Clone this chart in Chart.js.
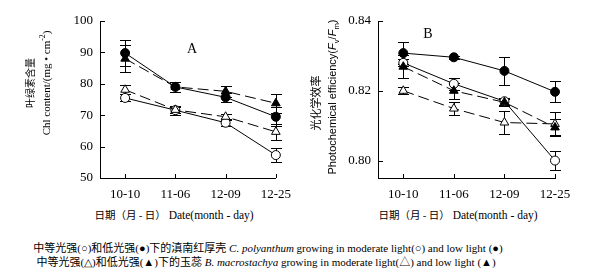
<!DOCTYPE html>
<html>
<head>
<meta charset="utf-8">
<script src="https://cdn.jsdelivr.net/npm/chart.js@4.4.1/dist/chart.umd.min.js"></script>
<style>
  body { margin: 0; background: #fff; }
  #wrap { position: relative; width: 606px; height: 276px; overflow: hidden; color: #000;
          font-family: "Liberation Serif", "Noto Sans CJK SC", serif; }
  canvas { position: absolute; top: 0; }
  .t { position: absolute; white-space: nowrap; line-height: 1; }
  .rot { transform: translate(-50%, -50%) rotate(-90deg); }
  .ctr { transform: translate(-50%, -50%); }
  .cn { font-family: "Noto Sans CJK SC", sans-serif; }
  .sy { font-family: "Liberation Serif", serif; }
  sup, sub { font-size: 70%; line-height: 0; }
</style>
</head>
<body>
<div id="wrap">
  <canvas id="chartA" width="300" height="205" style="left:0"></canvas>
  <canvas id="chartB" width="306" height="205" style="left:300px"></canvas>

  <!-- letras dos painéis -->
  <div class="t ctr" style="left:192px; top:49px; font-size:14px">A</div>
  <div class="t ctr" style="left:428px; top:34px; font-size:14px">B</div>

  <!-- títulos do eixo y -->
  <div class="t rot cn" style="left:30px; top:83px; font-size:10px">叶绿素含量</div>
  <div class="t rot" style="left:46px; top:83px; font-size:11px">Chl content/(mg • cm<sup>-2</sup>)</div>
  <div class="t rot cn" style="left:315px; top:103px; font-size:11px">光化学效率</div>
  <div class="t rot" style="left:332px; top:97px; font-size:11px; font-family:'Liberation Sans',sans-serif">Photochemical efficiency(<i>F</i><sub>v</sub>/<i>F</i><sub>m</sub>)</div>

  <!-- títulos do eixo x -->
  <div class="t ctr" style="left:174px; top:216px; font-size:11.5px"><span class="cn" style="font-size:10.5px">日期（月 - 日）</span> Date(month - day)</div>
  <div class="t ctr" style="left:458px; top:216px; font-size:11.5px"><span class="cn" style="font-size:10.5px">日期（月 - 日）</span> Date(month - day)</div>

  <!-- legenda -->
  <div class="t ctr" style="left:268px; top:248px; font-size:11px"><span class="cn">中等光强<span class="sy">(○)</span>和低光强<span class="sy">(●)</span>下的滇南红厚壳</span> <i>C. polyanthum</i> growing in moderate light(○) and low light (●)</div>
  <div class="t ctr" style="left:266px; top:262px; font-size:11px"><span class="cn">中等光强<span class="sy">(△)</span>和低光强<span class="sy">(▲)</span>下的玉蕊</span> <i>B. macrostachya</i> growing in moderate light(△) and low light (▲)</div>
</div>

<script>
// Categorias (datas)
const dates = ['10-10', '11-06', '12-09', '12-25'];

// Painel A - teor de clorofila
const chlCpModerate = [75.5, 71.6, 67.6, 57.3];
const chlCpModerateErr = [1.1, 1.4, 1.0, 2.2];
const chlCpLow = [89.8, 79.0, 75.7, 69.5];
const chlCpLowErr = [4.0, 1.6, 1.4, 3.0];
const chlBmModerate = [78.1, 71.7, 69.5, 64.7];
const chlBmModerateErr = [1.4, 1.0, 0.8, 2.5];
const chlBmLow = [88.0, 79.0, 77.6, 73.8];
const chlBmLowErr = [4.4, 1.6, 1.8, 3.0];
const chlTicks = [50, 60, 70, 80, 90, 100];

// Painel B - eficiência fotoquímica
const fvCpModerate = [0.828, 0.822, 0.817, 0.800];
const fvCpModerateErr = [0.001, 0.0017, 0.001, 0.0027];
const fvCpLow = [0.8308, 0.8296, 0.8257, 0.8197];
const fvCpLowErr = [0.0032, 0.0005, 0.004, 0.003];
const fvBmModerate = [0.820, 0.8149, 0.8109, 0.8105];
const fvBmModerateErr = [0.001, 0.0018, 0.0032, 0.0035];
const fvBmLow = [0.8269, 0.820, 0.8167, 0.8095];
const fvBmLowErr = [0.0033, 0.0023, 0.001, 0.0023];
const fvTicks = [0.80, 0.82, 0.84];

const serif = 'Liberation Serif';

function pts(vals) {
  return vals.map((v, i) => ({ x: i, y: v }));
}

// Barras de erro desenhadas com as escalas do gráfico
const errorBars = {
  id: 'errorBars',
  beforeDatasetsDraw(chart) {
    const { ctx, scales } = chart;
    ctx.save();
    ctx.strokeStyle = '#000';
    ctx.lineWidth = 1;
    chart.data.datasets.forEach(ds => {
      if (!ds.err) return;
      ds.data.forEach((p, i) => {
        const x = Math.round(scales.x.getPixelForValue(p.x)) + 0.5;
        const yTop = Math.round(scales.y.getPixelForValue(p.y + ds.err[i])) + 0.5;
        const yBot = Math.round(scales.y.getPixelForValue(p.y - ds.err[i])) + 0.5;
        ctx.beginPath();
        ctx.moveTo(x, yTop); ctx.lineTo(x, yBot);
        ctx.moveTo(x - 5.5, yTop); ctx.lineTo(x + 5.5, yTop);
        ctx.moveTo(x - 5.5, yBot); ctx.lineTo(x + 5.5, yBot);
        ctx.stroke();
      });
    });
    ctx.restore();
  }
};

// Marcas dos eixos voltadas para dentro
const innerTicks = {
  id: 'innerTicks',
  afterDraw(chart) {
    const { ctx, chartArea, scales } = chart;
    ctx.save();
    ctx.strokeStyle = '#000';
    ctx.lineWidth = 1;
    ctx.beginPath();
    scales.y.ticks.forEach(t => {
      const y = Math.round(scales.y.getPixelForValue(t.value)) + 0.5;
      ctx.moveTo(chartArea.left, y); ctx.lineTo(chartArea.left + 5, y);
    });
    scales.x.ticks.forEach(t => {
      const x = Math.round(scales.x.getPixelForValue(t.value)) + 0.5;
      ctx.moveTo(x, chartArea.bottom); ctx.lineTo(x, chartArea.bottom - 4);
    });
    ctx.stroke();
    ctx.restore();
  }
};

function series(vals, err, style, filled, dashed) {
  return {
    data: pts(vals),
    err: err,
    borderColor: '#000',
    borderWidth: 1,
    borderDash: dashed ? [11, 5] : [],
    pointStyle: style,
    pointRadius: style === 'triangle' ? 5 : 4.5,
    pointBackgroundColor: filled ? '#000' : '#fff',
    pointBorderColor: '#000',
    pointBorderWidth: 1,
    tension: 0,
    clip: false
  };
}

function makeOptions(yMin, yMax, yTicks, yFmt, yWidth, padRight) {
  return {
    responsive: false,
    animation: false,
    layout: { padding: { left: 0, top: 21, right: padRight, bottom: 0 } },
    plugins: { legend: { display: false }, tooltip: { enabled: false } },
    scales: {
      x: {
        type: 'linear',
        min: -0.5,
        max: 3,
        afterBuildTicks: s => { s.ticks = dates.map((d, i) => ({ value: i })); },
        afterFit: s => { s.height = 27; },
        grid: { drawOnChartArea: false, drawTicks: false },
        border: { color: '#000', width: 1 },
        ticks: {
          autoSkip: false, maxRotation: 0, minRotation: 0, padding: 9, color: '#000',
          font: { family: serif, size: 13 },
          callback: v => dates[v]
        }
      },
      y: {
        min: yMin,
        max: yMax,
        afterBuildTicks: s => { s.ticks = yTicks.map(v => ({ value: v })); },
        afterFit: s => { s.width = yWidth; },
        grid: { drawOnChartArea: false, drawTicks: false },
        border: { color: '#000', width: 1 },
        ticks: { padding: 7, color: '#000', font: { family: serif, size: 13 }, callback: yFmt }
      }
    }
  };
}

// Gráfico A
new Chart(document.getElementById('chartA').getContext('2d'), {
  type: 'line',
  data: {
    datasets: [
      series(chlBmLow, chlBmLowErr, 'triangle', true, true),
      series(chlBmModerate, chlBmModerateErr, 'triangle', false, true),
      series(chlCpLow, chlCpLowErr, 'circle', true, false),
      series(chlCpModerate, chlCpModerateErr, 'circle', false, false)
    ]
  },
  options: makeOptions(50, 100, chlTicks, v => v, 100, 23),
  plugins: [errorBars, innerTicks]
});

// Gráfico B
new Chart(document.getElementById('chartB').getContext('2d'), {
  type: 'line',
  data: {
    datasets: [
      series(fvBmLow, fvBmLowErr, 'triangle', true, true),
      series(fvBmModerate, fvBmModerateErr, 'triangle', false, true),
      series(fvCpLow, fvCpLowErr, 'circle', true, false),
      series(fvCpModerate, fvCpModerateErr, 'circle', false, false)
    ]
  },
  options: makeOptions(0.795, 0.84, fvTicks, v => v.toFixed(2), 78, 51),
  plugins: [errorBars, innerTicks]
});
</script>
</body>
</html>
